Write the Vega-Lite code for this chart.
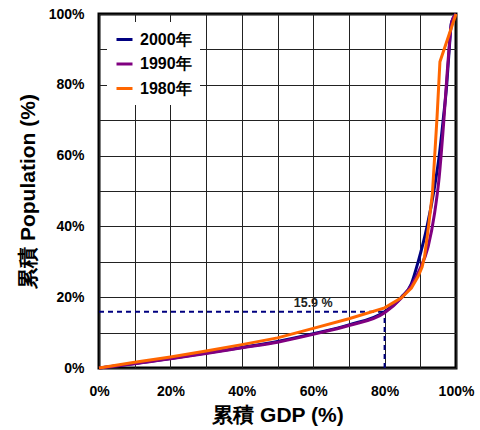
{
  "$schema": "https://vega.github.io/schema/vega-lite/v6.json",
  "width": 357,
  "height": 354,
  "autosize": "none",
  "padding": {"left": 99, "top": 14, "right": 24, "bottom": 62},
  "config": {
    "font": "Liberation Sans",
    "view": {"stroke": "black", "strokeWidth": 3},
    "axis": {
      "domain": false,
      "ticks": false,
      "tickSize": 0,
      "grid": true,
      "gridColor": "#222222",
      "gridWidth": 1,
      "labelFlush": false,
      "labelOverlap": false,
      "labelFont": "Liberation Sans",
      "labelFontWeight": "bold",
      "labelFontSize": 14,
      "labelColor": "black",
      "titleFont": "Liberation Sans",
      "titleFontWeight": "bold",
      "titleFontSize": 21,
      "titleColor": "black"
    }
  },
  "datasets": {
    "curves": [
      {"series": "2000年", "gdp": 0, "pop": 0},
      {"series": "2000年", "gdp": 10, "pop": 1.3},
      {"series": "2000年", "gdp": 20, "pop": 2.7},
      {"series": "2000年", "gdp": 30, "pop": 4.2},
      {"series": "2000年", "gdp": 40, "pop": 5.8},
      {"series": "2000年", "gdp": 50, "pop": 7.5},
      {"series": "2000年", "gdp": 60, "pop": 9.7},
      {"series": "2000年", "gdp": 70, "pop": 12.2},
      {"series": "2000年", "gdp": 80, "pop": 15.9},
      {"series": "2000年", "gdp": 84.7, "pop": 20},
      {"series": "2000年", "gdp": 87.5, "pop": 23.8},
      {"series": "2000年", "gdp": 89.4, "pop": 30},
      {"series": "2000年", "gdp": 91.9, "pop": 40},
      {"series": "2000年", "gdp": 93.8, "pop": 50},
      {"series": "2000年", "gdp": 95.3, "pop": 60},
      {"series": "2000年", "gdp": 96.4, "pop": 70},
      {"series": "2000年", "gdp": 97.4, "pop": 80},
      {"series": "2000年", "gdp": 98.1, "pop": 90},
      {"series": "2000年", "gdp": 98.7, "pop": 97.4},
      {"series": "2000年", "gdp": 100, "pop": 100},
      {"series": "1990年", "gdp": 0, "pop": 0},
      {"series": "1990年", "gdp": 10, "pop": 1.2},
      {"series": "1990年", "gdp": 20, "pop": 2.6},
      {"series": "1990年", "gdp": 30, "pop": 4.1},
      {"series": "1990年", "gdp": 40, "pop": 5.7},
      {"series": "1990年", "gdp": 50, "pop": 7.3},
      {"series": "1990年", "gdp": 60, "pop": 9.5},
      {"series": "1990年", "gdp": 70, "pop": 12.0},
      {"series": "1990年", "gdp": 80, "pop": 15.6},
      {"series": "1990年", "gdp": 84.7, "pop": 19.8},
      {"series": "1990年", "gdp": 87.5, "pop": 23.3},
      {"series": "1990年", "gdp": 89.8, "pop": 27.8},
      {"series": "1990年", "gdp": 92.2, "pop": 34.3},
      {"series": "1990年", "gdp": 94, "pop": 43.7},
      {"series": "1990年", "gdp": 95.3, "pop": 54},
      {"series": "1990年", "gdp": 96.4, "pop": 67.3},
      {"series": "1990年", "gdp": 97.8, "pop": 87},
      {"series": "1990年", "gdp": 98.8, "pop": 97.8},
      {"series": "1990年", "gdp": 100, "pop": 100}
    ],
    "curve1980": [
      {"series": "1980年", "gdp": 0, "pop": 0},
      {"series": "1980年", "gdp": 10, "pop": 1.6},
      {"series": "1980年", "gdp": 20, "pop": 3.1},
      {"series": "1980年", "gdp": 30, "pop": 4.8},
      {"series": "1980年", "gdp": 40, "pop": 6.6},
      {"series": "1980年", "gdp": 50, "pop": 8.5},
      {"series": "1980年", "gdp": 60, "pop": 11.2},
      {"series": "1980年", "gdp": 70, "pop": 13.9},
      {"series": "1980年", "gdp": 80, "pop": 17.0},
      {"series": "1980年", "gdp": 84.7, "pop": 19.8},
      {"series": "1980年", "gdp": 87.5, "pop": 22.6},
      {"series": "1980年", "gdp": 89.4, "pop": 25.9},
      {"series": "1980年", "gdp": 90.5, "pop": 28.5},
      {"series": "1980年", "gdp": 91.2, "pop": 31.5},
      {"series": "1980年", "gdp": 92.3, "pop": 40},
      {"series": "1980年", "gdp": 93.4, "pop": 49.4},
      {"series": "1980年", "gdp": 94.7, "pop": 71},
      {"series": "1980年", "gdp": 95.5, "pop": 86.5},
      {"series": "1980年", "gdp": 100, "pop": 100}
    ],
    "guides": [
      {"gdp": 0, "pop": 15.9, "gdp2": 80, "pop2": 15.9},
      {"gdp": 80, "pop": 0, "gdp2": 80, "pop2": 15.9}
    ],
    "note": [
      {"gdp": 60, "pop": 18.5, "label": "15.9 %"}
    ]
  },
  "layer": [
    {
      "data": {"name": "guides"},
      "mark": {"type": "rule", "color": "#000080", "strokeWidth": 2, "strokeDash": [5, 4]},
      "encoding": {
        "x": {"field": "gdp", "type": "quantitative"},
        "x2": {"field": "gdp2"},
        "y": {"field": "pop", "type": "quantitative"},
        "y2": {"field": "pop2"}
      }
    },
    {
      "data": {"name": "curves"},
      "mark": {"type": "line", "strokeWidth": 3, "interpolate": "monotone"},
      "encoding": {
        "x": {
          "field": "gdp", "type": "quantitative",
          "scale": {"domain": [0, 100], "nice": false},
          "axis": {"tickCount": 10, "labelExpr": "datum.value % 20 == 0 ? datum.value + '%' : ''", "labelPadding": 16, "title": "累積 GDP (%)", "titlePadding": 6}
        },
        "y": {
          "field": "pop", "type": "quantitative",
          "scale": {"domain": [0, 100], "nice": false},
          "axis": {"tickCount": 10, "labelExpr": "datum.value % 20 == 0 ? datum.value + '%' : ''", "labelPadding": 15, "title": "累積 Population (%)", "titlePadding": 10}
        },
        "color": {
          "field": "series", "type": "nominal",
          "scale": {"domain": ["2000年", "1990年", "1980年"], "range": ["#000080", "#800080", "#ff6600"]},
          "legend": {
            "title": null,
            "orient": "none",
            "legendX": 8,
            "legendY": 8,
            "fillColor": "white",
            "padding": 8,
            "symbolType": "stroke",
            "symbolSize": 256,
            "symbolStrokeWidth": 3,
            "labelFont": "Liberation Sans",
            "labelFontSize": 16,
            "labelFontWeight": "bold",
            "labelColor": "black",
            "labelOffset": 6,
            "rowPadding": 6.5
          }
        }
      }
    },
    {
      "data": {"name": "curve1980"},
      "mark": {"type": "line", "strokeWidth": 3, "interpolate": "linear"},
      "encoding": {
        "x": {"field": "gdp", "type": "quantitative"},
        "y": {"field": "pop", "type": "quantitative"},
        "color": {"field": "series", "type": "nominal"}
      }
    },
    {
      "data": {"name": "note"},
      "mark": {"type": "text", "font": "Liberation Sans", "fontWeight": "bold", "fontSize": 12.5, "color": "#222222"},
      "encoding": {
        "x": {"field": "gdp", "type": "quantitative"},
        "y": {"field": "pop", "type": "quantitative"},
        "text": {"field": "label"}
      }
    }
  ]
}
